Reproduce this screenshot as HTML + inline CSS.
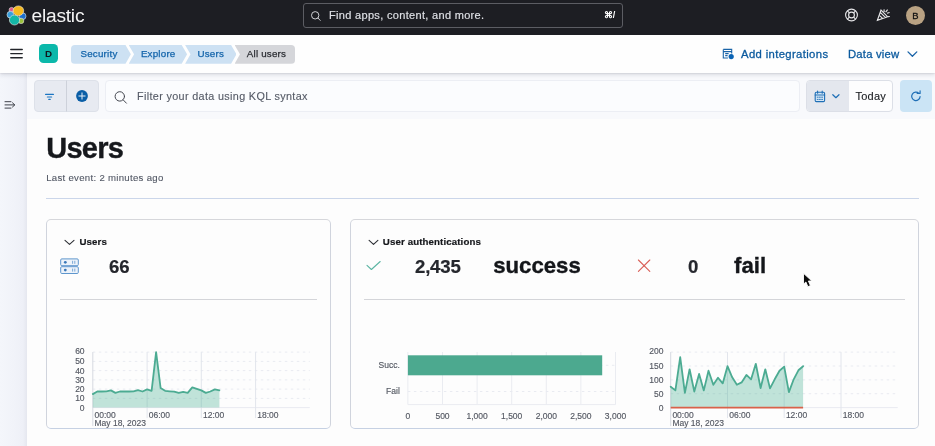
<!DOCTYPE html>
<html lang="en">
<head>
<meta charset="utf-8">
<title>Users - Elastic Security</title>
<style>
*{box-sizing:border-box;margin:0;padding:0}
html,body{width:935px;height:446px;overflow:hidden;background:#fdfdfd;font-family:"Liberation Sans",sans-serif;color:#1a1c21}
.abs{position:absolute;white-space:nowrap}
#top{left:0;top:0;width:935px;height:35px;background:#1d1e23}
#wordmark{left:31.6px;top:4.1px;font-size:19.2px;line-height:24px;color:#f4f4f4;letter-spacing:-0.25px}
#gsearch{left:303px;top:3px;width:320px;height:25.3px;border:1px solid #5c5d63;border-radius:3px;background:transparent}
#gsearch .ph{left:25px;top:0;line-height:23.6px;font-size:11px;letter-spacing:.32px;color:#dfe1e6;-webkit-text-stroke:.15px #dfe1e6}
#gsearch .kbd{right:6.8px;top:0;line-height:23.8px;font-size:9px;color:#fff;font-weight:bold}
#avatar{left:905.8px;top:5.8px;width:19.4px;height:19.4px;border-radius:50%;background:#b9a283;color:#111;font-size:9.4px;-webkit-text-stroke:.3px #111;text-align:center;line-height:20.4px}
#bar2{left:0;top:35px;width:935px;height:38px;background:#fefefe;box-shadow:0 0.5px 1.5px rgba(50,55,70,.16),0 2px 4px rgba(60,65,90,.15);z-index:5}
#space{left:39px;top:8.8px;width:19px;height:19px;border-radius:4.5px;background:#0bb8aa;color:#10151c;font-size:9.8px;font-weight:bold;text-align:center;line-height:20.6px}
.crumb{top:10px;height:18.7px;line-height:18.9px;font-size:9.8px;letter-spacing:.2px;color:#1465ab;background:#cde1f3;-webkit-text-stroke:.25px currentColor}
.crumb span{position:absolute;top:0}
.lnk{top:11.8px;font-size:11.3px;line-height:14px;color:#0b5a9e;letter-spacing:.36px;-webkit-text-stroke:.3px #0b5a9e}
#side{left:0;top:73px;width:27px;height:373px;background:linear-gradient(90deg,#f4f6fb 0,#f1f3f9 14px,#eef0f7 23px,#e6e8f0 26.5px,#e9ebf2 27px)}
#qbar{left:27px;top:73px;width:908px;height:46px;background:#f8f9fc}
#fgroup{left:34px;top:80px;width:65px;height:32px;background:#e7eaf1;border-radius:4px;border:1px solid #dde1e9}
#qinput{left:105px;top:80px;width:695px;height:32px;background:#fbfcfe;border:1px solid #eceef4;border-radius:4px}
#qinput .ph{left:31px;top:0;line-height:30px;font-size:10.8px;letter-spacing:.35px;color:#555a66;-webkit-text-stroke:.12px #555a66}
#dp{left:806px;top:80px;width:87px;height:32px;background:#fdfdfe;border:1px solid #dcdfe7;border-radius:4px;overflow:hidden}
#dp .l{left:0;top:0;width:42px;height:30px;background:#e4e7ee}
#dp .t{left:48.4px;top:0;line-height:30px;font-size:11px;letter-spacing:.25px;color:#1a1c21;-webkit-text-stroke:.12px #1a1c21}
#refresh{left:900px;top:80px;width:32px;height:32px;background:#cbe4f5;border-radius:4px}
h1{left:46.2px;top:130.6px;font-size:29px;line-height:34px;font-weight:bold;color:#16181c;letter-spacing:-.7px;-webkit-text-stroke:.35px #16181c}
#last{left:46.2px;top:171.5px;font-size:9.6px;letter-spacing:.3px;line-height:12px;color:#515764;-webkit-text-stroke:.1px #515764}
#hr{left:46px;top:197.6px;width:873px;height:1px;background:#cbd6ea}
.panel{top:219px;height:210px;border:1px solid #d0d4dd;border-top-color:#d6d7db;border-bottom-color:#c6d1e3;border-radius:5px;background:#fdfdfd}
.ptitle{font-size:9.7px;font-weight:bold;line-height:12px;color:#16181c;letter-spacing:.12px;-webkit-text-stroke:.2px #16181c}
.num{font-size:18.6px;font-weight:bold;line-height:20px;color:#25272d;letter-spacing:-.2px;margin-top:.4px;-webkit-text-stroke:.2px #25272d}
.big{font-size:22.2px;font-weight:bold;line-height:24px;color:#14161a;-webkit-text-stroke:.35px #14161a}
.phr{height:1px;background:#d4d5d9}
svg{position:absolute;left:0;top:0;overflow:visible}
svg text{font-family:"Liberation Sans",sans-serif}
.ax{font-size:8.5px;fill:#555963;stroke:#555963;stroke-width:.15px}
</style>
</head>
<body>
<div id="top" class="abs">
  <svg width="935" height="35" viewBox="0 0 935 35">
    <g stroke="#ece9e4" stroke-width="0.6">
      <circle cx="11.6" cy="9.9" r="2.5" fill="#dc5a8e"/>
      <circle cx="10.4" cy="14.7" r="3.4" fill="#379fdc"/>
      <circle cx="22.6" cy="16.2" r="3.4" fill="#1d6fcb"/>
      <circle cx="21.1" cy="20.9" r="2.7" fill="#9ac23c"/>
      <ellipse cx="14.5" cy="20" rx="5.1" ry="5" fill="#14b7a6"/>
      <ellipse cx="18.4" cy="10.8" rx="5.3" ry="4.9" fill="#f6ba1e"/>
    </g>
    <g fill="none" stroke="#e8e8ea" stroke-width="1.1">
      <circle cx="315.2" cy="15.3" r="3.7" stroke="#cfd0d4" stroke-width="1"/>
      <line x1="317.9" y1="18" x2="320.2" y2="20.4" stroke="#cfd0d4" stroke-width="1" stroke-linecap="round"/>
      <circle cx="851.5" cy="15" r="5.9"/>
      <circle cx="851.5" cy="15" r="2.9"/>
      <path d="M847.4 10.9l2 2M855.6 10.9l-2 2M847.4 19.1l2-2M855.6 19.1l-2-2"/>
      <path d="M877.4 20.3l3.6-10.2 6.6 6.6zM879.2 15.2l3.6 3.4M880.3 12.4l5 4.9M884 9.4l.2 2.6M889.6 12.4l-2.6.9M887.6 9.6l-2 2.6M889.8 16.5l-1.6.1"/>
    </g>
  </svg>
  <div id="wordmark" class="abs">elastic</div>
  <div id="gsearch" class="abs"><span class="ph abs">Find apps, content, and more.</span><span class="kbd abs">⌘/</span></div>
  <div id="avatar" class="abs">B</div>
</div>
<div id="bar2" class="abs">
  <svg width="935" height="38" viewBox="0 35 935 38">
    <g stroke="#222429" stroke-width="1.45" stroke-linecap="round">
      <line x1="10.8" y1="49.5" x2="22.2" y2="49.5"/><line x1="10.8" y1="53.6" x2="22.2" y2="53.6"/><line x1="10.8" y1="57.8" x2="22.2" y2="57.8"/>
    </g>
    <g fill="none" stroke="#1a64a8" stroke-width="1.1">
      <path d="M723.3 49.4h8.4v4.2M723.3 49.4v8.6h4.6M723.3 51.6h8.4M725.2 53.6h3.4M725.2 55.6h2.4"/>
      <circle cx="731.2" cy="56.6" r="2.6" fill="#0b64b5" stroke="none"/>
      <path d="M908 51.9l4.4 4.4 4.4-4.4" stroke-width="1.3" stroke-linecap="round" stroke-linejoin="round"/>
    </g>
  </svg>
  <div id="space" class="abs">D</div>
  <div class="crumb abs" style="left:70.9px;width:60px;border-radius:4px 0 0 4px;clip-path:polygon(0 0,54.6px 0,100% 50%,54.6px 100%,0 100%)"><span style="left:9.6px">Security</span></div>
  <div class="crumb abs" style="left:128.7px;width:58.4px;clip-path:polygon(0 0,53px 0,100% 50%,53px 100%,0 100%,5.4px 50%)"><span style="left:12.2px">Explore</span></div>
  <div class="crumb abs" style="left:185.1px;width:51.4px;clip-path:polygon(0 0,46px 0,100% 50%,46px 100%,0 100%,5.4px 50%)"><span style="left:12.3px">Users</span></div>
  <div class="crumb abs" style="left:234.6px;width:60.5px;background:#d5d6da;color:#2b2d33;border-radius:0 4px 4px 0;clip-path:polygon(0 0,100% 0,100% 100%,0 100%,5.4px 50%)"><span style="left:12.2px">All users</span></div>
  <div class="lnk abs" style="left:741px;">Add integrations</div>
  <div class="lnk abs" style="left:848px;letter-spacing:.2px">Data view</div>
</div>
<div id="side" class="abs"></div>
<div id="qbar" class="abs"></div>
<div id="fgroup" class="abs"></div>
<div id="qinput" class="abs"><span class="ph abs">Filter your data using KQL syntax</span></div>
<div id="dp" class="abs"><div class="l abs"></div><div class="t abs">Today</div></div>
<div id="refresh" class="abs"></div>
<h1 class="abs">Users</h1>
<div id="last" class="abs">Last event: 2 minutes ago</div>
<div id="hr" class="abs"></div>
<div class="panel abs" style="left:46px;width:285px"></div>
<div class="panel abs" style="left:350px;width:569px"></div>
<div class="ptitle abs" style="left:79.4px;top:236px">Users</div>
<div class="num abs" style="left:109px;top:257px">66</div>
<div class="phr abs" style="left:60px;top:299px;width:257px"></div>
<div class="ptitle abs" style="left:382.8px;top:236px">User authentications</div>
<div class="num abs" style="left:415px;top:257px">2,435</div>
<div class="big abs" style="left:493.2px;top:254px">success</div>
<div class="num abs" style="left:688px;top:257px">0</div>
<div class="big abs" style="left:734px;top:254px">fail</div>
<div class="phr abs" style="left:364px;top:299px;width:541px"></div>
<svg width="935" height="446" viewBox="0 0 935 446">
  <!-- sidebar + query bar icons -->
  <g fill="none" stroke="#5a5e68" stroke-width="1.1" stroke-linecap="round" stroke-linejoin="round">
    <path d="M5 101.7h6M5 104.9h9.4M5 108.1h6M12.5 102.8l2.3 2.1-2.3 2.1" stroke="#3f424a" stroke-width="1"/>
    <circle cx="119.8" cy="96.4" r="4.7" stroke="#454851" stroke-width="1"/>
    <path d="M123.2 99.9l3.2 3.3" stroke="#454851" stroke-width="1"/>
  </g>
  <g stroke="#1b75c2" stroke-width="1.2" stroke-linecap="round">
    <path d="M45.6 94.4h7.8M47.4 97h4.2M48.8 99.4h1.4"/>
  </g>
  <line x1="66.5" y1="80.5" x2="66.500001" y2="111.5" stroke="#cdd1da" stroke-width="1"/>
  <circle cx="82" cy="96" r="5.9" fill="#0a5ea6"/>
  <path d="M78.9 96h6.2M82 92.9v6.2" stroke="#e8f0f8" stroke-width="1" stroke-linecap="round"/>
  <g fill="none" stroke="#1f6fb6" stroke-width="1.1" stroke-linecap="round" stroke-linejoin="round">
    <rect x="815.2" y="92.2" width="9.4" height="9.4" rx="1.2" fill="#d5e6f5"/>
    <path d="M815.2 95h9.4M817.6 91v2.2M822.2 91v2.2"/>
    <path d="M817.2 97.2h5.6M817.2 99.4h5.6" stroke-width="0.9" stroke-dasharray="1 1.2"/>
    <path d="M832.8 94.7l3.1 3 3.1-3" stroke-width="1.2"/>
    <path d="M918.9 93.4a4.2 4.2 0 1 0 1.2 3.2M917.2 93.4h2.9v-2.7" stroke-width="1.15"/>
  </g>
  <!-- panel icons -->
  <g fill="none" stroke="#2b2d33" stroke-width="1.2" stroke-linecap="round" stroke-linejoin="round">
    <path d="M65 240.4l4.5 4 4.5-4" stroke-width="1.1"/>
    <path d="M369.1 240.4l4.4 4 4.4-4" stroke-width="1.1"/>
  </g>
  <g fill="#edf3fa" stroke="#5e96cd" stroke-width="1">
    <rect x="60.7" y="258.9" width="17.6" height="6.8" rx="1.1"/>
    <rect x="60.7" y="266.7" width="17.6" height="6.8" rx="1.1"/>
    <circle cx="65.3" cy="262.3" r="1.4" fill="#3b78b8" stroke="none"/>
    <circle cx="65.3" cy="270.1" r="1.4" fill="#3b78b8" stroke="none"/>
    <path d="M72.6 260.8v3M74.8 260.8v3M72.6 268.6v3M74.8 268.6v3" stroke-width="0.8"/>
  </g>
  <path d="M367 265.3l4.4 4.2 8.8-8" fill="none" stroke="#5bb5a3" stroke-width="1.1" stroke-linecap="round" stroke-linejoin="round"/>
  <path d="M638.4 260l11.4 11.4M649.8 260l-11.4 11.4" fill="none" stroke="#d95f58" stroke-width="1.1" stroke-linecap="round"/>
  <!-- charts -->
<line x1="92.8" y1="407.6" x2="309.8" y2="407.6" stroke="#e9ebf1" stroke-width="1"/>
<line x1="92.8" y1="398.4" x2="309.8" y2="398.4" stroke="#e9ebf1" stroke-width="1" stroke-dasharray="2.5 3.5"/>
<line x1="92.8" y1="389.1" x2="309.8" y2="389.1" stroke="#e9ebf1" stroke-width="1" stroke-dasharray="2.5 3.5"/>
<line x1="92.8" y1="379.9" x2="309.8" y2="379.9" stroke="#e9ebf1" stroke-width="1" stroke-dasharray="2.5 3.5"/>
<line x1="92.8" y1="370.6" x2="309.8" y2="370.6" stroke="#e9ebf1" stroke-width="1" stroke-dasharray="2.5 3.5"/>
<line x1="92.8" y1="361.4" x2="309.8" y2="361.4" stroke="#e9ebf1" stroke-width="1" stroke-dasharray="2.5 3.5"/>
<line x1="92.8" y1="352.1" x2="309.8" y2="352.1" stroke="#e9ebf1" stroke-width="1" stroke-dasharray="2.5 3.5"/>
<line x1="92.8" y1="352.1" x2="92.8" y2="426.1" stroke="#d6d9e0" stroke-width="1"/>
<line x1="147.1" y1="352.1" x2="147.1" y2="418.1" stroke="#e2e5ec" stroke-width="1"/>
<line x1="201.3" y1="352.1" x2="201.3" y2="418.1" stroke="#e2e5ec" stroke-width="1"/>
<line x1="255.6" y1="352.1" x2="255.6" y2="418.1" stroke="#e2e5ec" stroke-width="1"/>
<polygon points="92.8,407.6 92.8,394.1 97.3,391.5 101.8,391.5 106.4,391.3 110.9,390.4 115.4,392.9 119.9,391.5 124.4,391.5 129.0,391.5 133.5,391.3 138.0,390.2 142.5,391.5 147.1,389.4 151.6,390.8 156.1,352.1 160.6,388.0 165.1,390.8 169.7,391.3 174.2,391.7 178.7,392.9 183.2,391.9 187.7,392.9 192.3,387.4 196.8,388.8 201.3,390.4 205.8,392.9 210.3,391.5 214.9,389.4 219.4,390.4 219.4,407.6" fill="#54b399" fill-opacity="0.36"/>
<polyline points="92.8,394.1 97.3,391.5 101.8,391.5 106.4,391.3 110.9,390.4 115.4,392.9 119.9,391.5 124.4,391.5 129.0,391.5 133.5,391.3 138.0,390.2 142.5,391.5 147.1,389.4 151.6,390.8 156.1,352.1 160.6,388.0 165.1,390.8 169.7,391.3 174.2,391.7 178.7,392.9 183.2,391.9 187.7,392.9 192.3,387.4 196.8,388.8 201.3,390.4 205.8,392.9 210.3,391.5 214.9,389.4 219.4,390.4" fill="none" stroke="#4cab92" stroke-width="1.8" stroke-linejoin="round" stroke-linecap="round"/>
<text x="84.6" y="410.6" text-anchor="end" class="ax">0</text>
<text x="84.6" y="401.4" text-anchor="end" class="ax">10</text>
<text x="84.6" y="392.1" text-anchor="end" class="ax">20</text>
<text x="84.6" y="382.9" text-anchor="end" class="ax">30</text>
<text x="84.6" y="373.6" text-anchor="end" class="ax">40</text>
<text x="84.6" y="364.4" text-anchor="end" class="ax">50</text>
<text x="84.6" y="354.1" text-anchor="end" class="ax">60</text>
<text x="94.5" y="418.2" class="ax">00:00</text>
<text x="148.8" y="418.2" class="ax">06:00</text>
<text x="203.0" y="418.2" class="ax">12:00</text>
<text x="257.2" y="418.2" class="ax">18:00</text>
<text x="94.5" y="426.4" class="ax">May 18, 2023</text>
<line x1="407.9" y1="352" x2="407.9" y2="404.6" stroke="#eaecf1" stroke-width="1"/>
<text x="407.9" y="419.3" text-anchor="middle" class="ax">0</text>
<line x1="442.5" y1="352" x2="442.5" y2="404.6" stroke="#eaecf1" stroke-width="1"/>
<text x="442.5" y="419.3" text-anchor="middle" class="ax">500</text>
<line x1="477.1" y1="352" x2="477.1" y2="404.6" stroke="#eaecf1" stroke-width="1"/>
<text x="477.1" y="419.3" text-anchor="middle" class="ax">1,000</text>
<line x1="511.7" y1="352" x2="511.7" y2="404.6" stroke="#eaecf1" stroke-width="1"/>
<text x="511.7" y="419.3" text-anchor="middle" class="ax">1,500</text>
<line x1="546.3" y1="352" x2="546.3" y2="404.6" stroke="#eaecf1" stroke-width="1"/>
<text x="546.3" y="419.3" text-anchor="middle" class="ax">2,000</text>
<line x1="580.9" y1="352" x2="580.9" y2="404.6" stroke="#eaecf1" stroke-width="1"/>
<text x="580.9" y="419.3" text-anchor="middle" class="ax">2,500</text>
<line x1="615.5" y1="352" x2="615.5" y2="404.6" stroke="#eaecf1" stroke-width="1"/>
<text x="615.5" y="419.3" text-anchor="middle" class="ax">3,000</text>
<line x1="407.9" y1="404.6" x2="615.5" y2="404.6" stroke="#eaecf1" stroke-width="1"/>
<line x1="407.9" y1="391.5" x2="615.5" y2="391.5" stroke="#e9ebf1" stroke-width="1" stroke-dasharray="2.5 3.5"/>
<line x1="407.9" y1="365.3" x2="615.5" y2="365.3" stroke="#e9ebf1" stroke-width="1" stroke-dasharray="2.5 3.5"/>
<rect x="407.9" y="355.3" width="194.3" height="20" fill="#4ca98f"/>
<text x="399.8" y="367.7" text-anchor="end" class="ax">Succ.</text>
<text x="399.8" y="393.6" text-anchor="end" class="ax">Fail</text>
<line x1="670.7" y1="407.6" x2="897.7" y2="407.6" stroke="#e9ebf1" stroke-width="1"/>
<line x1="670.7" y1="393.7" x2="897.7" y2="393.7" stroke="#e9ebf1" stroke-width="1" stroke-dasharray="2.5 3.5"/>
<line x1="670.7" y1="379.9" x2="897.7" y2="379.9" stroke="#e9ebf1" stroke-width="1" stroke-dasharray="2.5 3.5"/>
<line x1="670.7" y1="366.0" x2="897.7" y2="366.0" stroke="#e9ebf1" stroke-width="1" stroke-dasharray="2.5 3.5"/>
<line x1="670.7" y1="352.1" x2="897.7" y2="352.1" stroke="#e9ebf1" stroke-width="1" stroke-dasharray="2.5 3.5"/>
<line x1="670.7" y1="352.1" x2="670.7" y2="426.1" stroke="#d6d9e0" stroke-width="1"/>
<line x1="727.5" y1="352.1" x2="727.5" y2="418.1" stroke="#e2e5ec" stroke-width="1"/>
<line x1="784.2" y1="352.1" x2="784.2" y2="418.1" stroke="#e2e5ec" stroke-width="1"/>
<line x1="841.0" y1="352.1" x2="841.0" y2="418.1" stroke="#e2e5ec" stroke-width="1"/>
<polygon points="670.7,407.6 670.7,386.8 675.4,390.4 680.2,357.1 684.9,392.9 689.6,369.3 694.3,391.5 699.1,373.9 703.8,390.4 708.5,370.7 713.3,384.8 718.0,377.7 722.7,383.4 727.5,366.2 732.2,377.3 736.9,384.8 741.6,382.4 746.4,374.9 751.1,379.3 755.8,363.8 760.6,388.0 765.3,369.3 770.0,388.4 774.7,379.3 779.5,370.7 784.2,366.6 788.9,392.1 793.7,379.3 798.4,370.3 803.1,366.2 803.1,407.6" fill="#54b399" fill-opacity="0.36"/>
<polyline points="670.7,386.8 675.4,390.4 680.2,357.1 684.9,392.9 689.6,369.3 694.3,391.5 699.1,373.9 703.8,390.4 708.5,370.7 713.3,384.8 718.0,377.7 722.7,383.4 727.5,366.2 732.2,377.3 736.9,384.8 741.6,382.4 746.4,374.9 751.1,379.3 755.8,363.8 760.6,388.0 765.3,369.3 770.0,388.4 774.7,379.3 779.5,370.7 784.2,366.6 788.9,392.1 793.7,379.3 798.4,370.3 803.1,366.2" fill="none" stroke="#4cab92" stroke-width="1.8" stroke-linejoin="round" stroke-linecap="round"/>
<line x1="670.7" y1="407.6" x2="803.1" y2="407.6" stroke="#d9624a" stroke-width="1.8"/>
<text x="663.4" y="410.6" text-anchor="end" class="ax">0</text>
<text x="663.4" y="396.7" text-anchor="end" class="ax">50</text>
<text x="663.4" y="382.9" text-anchor="end" class="ax">100</text>
<text x="663.4" y="369.0" text-anchor="end" class="ax">150</text>
<text x="663.4" y="354.1" text-anchor="end" class="ax">200</text>
<text x="672.4" y="418.2" class="ax">00:00</text>
<text x="729.2" y="418.2" class="ax">06:00</text>
<text x="785.9" y="418.2" class="ax">12:00</text>
<text x="842.7" y="418.2" class="ax">18:00</text>
<text x="672.4" y="426.4" class="ax">May 18, 2023</text>
  <!-- mouse cursor -->
  <path d="M803.5 273.3v10.9l2.4-2.2 2 4.7 2.5-1.1-2-4.6h3.5z" fill="#0c0c0c" stroke="#fff" stroke-width="0.9" stroke-linejoin="round"/>
</svg>
</body>
</html>
